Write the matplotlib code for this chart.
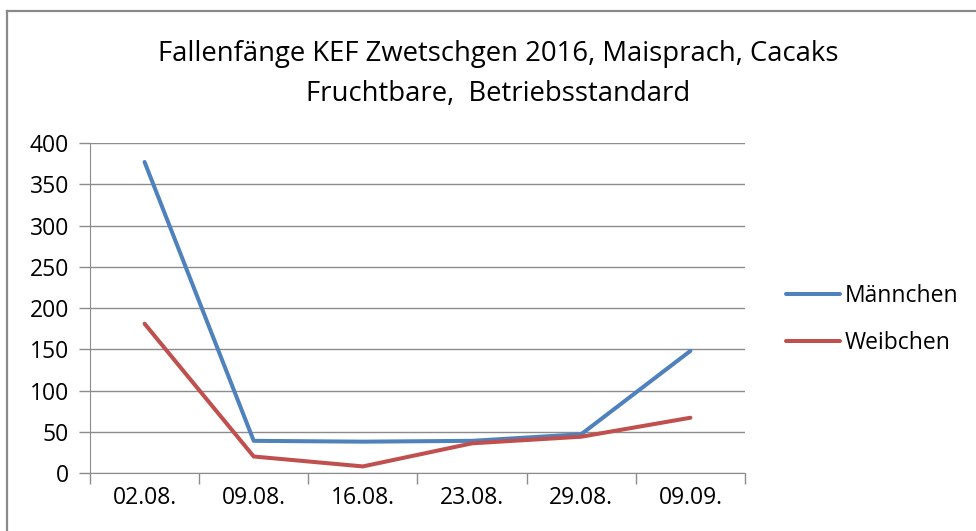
import matplotlib
matplotlib.use('Agg')
from matplotlib import pyplot as plt
from matplotlib.lines import Line2D

plt.rcParams['font.family'] = ['Open Sans', 'DejaVu Sans']

# Daten aus der Grafik
dates = ['02.08.', '09.08.', '16.08.', '23.08.', '29.08.', '09.09.']
maennchen = [377, 39, 38, 39, 47, 148]
weibchen = [181, 20, 8, 36, 44, 67]
yticks = [0, 50, 100, 150, 200, 250, 300, 350, 400]

title = 'Fallenfänge KEF Zwetschgen 2016, Maisprach, Cacaks\nFruchtbare,  Betriebsstandard'

fig = plt.figure(figsize=(9.76, 5.31), dpi=100)
ax = fig.add_axes([0.0922, 0.1092, 0.6711, 0.6215])

x = list(range(len(dates)))
ax.plot(x, maennchen, color='#4F81BD', lw=2.9, label='Männchen', solid_capstyle='round')
ax.plot(x, weibchen, color='#C0504D', lw=2.9, label='Weibchen', solid_capstyle='round')

ax.set_xlim(-0.5, len(dates) - 0.5)
ax.set_ylim(0, 400)
ax.set_yticks(yticks)
ax.set_yticklabels([str(v) for v in yticks], fontsize=16.5)
ax.set_xticks(x)
ax.set_xticklabels(dates, fontsize=16.5)
# Kategorie-Trennstriche
ax.set_xticks([i - 0.5 for i in range(len(dates) + 1)], minor=True)
ax.tick_params(axis='x', which='major', length=0, pad=9)
ax.tick_params(axis='x', which='minor', length=8, color='#8c8c8c', width=1)
ax.tick_params(axis='y', length=8, color='#8c8c8c', width=1, pad=7)

ax.grid(axis='y', color='#8c8c8c', lw=1)
ax.set_axisbelow(True)
for s in ['top', 'right']:
    ax.spines[s].set_visible(False)
ax.spines['left'].set_color('#8c8c8c')
ax.spines['bottom'].set_color('#8c8c8c')

fig.text(0.51, 0.86, title, ha='center', va='center', fontsize=19.8, linespacing=1.57)

ax.legend(loc='center left', bbox_to_anchor=(1.0626, 0.464), frameon=False, fontsize=16.5,
          handlelength=2.35, handletextpad=0.2, labelspacing=1.0,
          borderpad=0, borderaxespad=0)

# Rahmen links und oben
fig.add_artist(Line2D([0.007, 0.007], [0, 0.98], transform=fig.transFigure, color='#8a8a8a', lw=1.6))
fig.add_artist(Line2D([0.007, 1.0], [0.98, 0.98], transform=fig.transFigure, color='#8a8a8a', lw=1.6))

fig.savefig('out.png', dpi=100)
